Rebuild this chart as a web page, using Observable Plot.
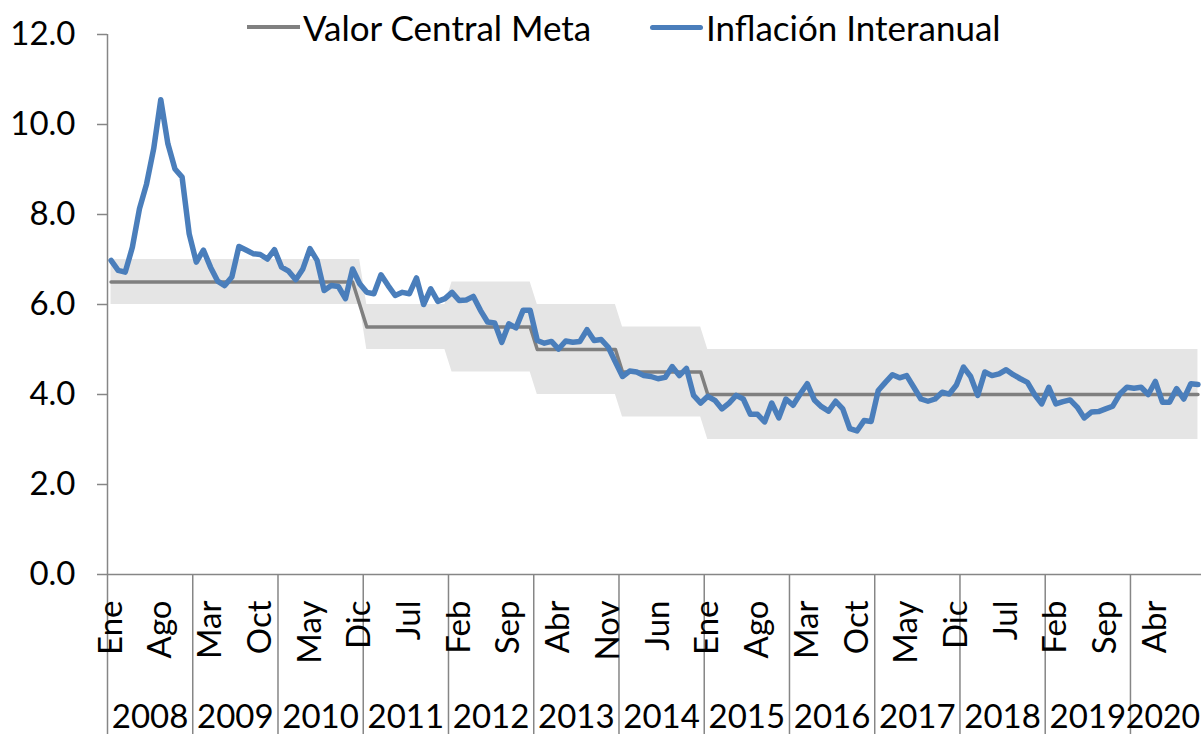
<!DOCTYPE html>
<html><head><meta charset="utf-8">
<script src="https://cdn.jsdelivr.net/npm/d3@7"></script>
<script src="https://cdn.jsdelivr.net/npm/@observablehq/plot@0.6"></script>
<style>
body{margin:0;background:#fff;font-family:Lato,"Liberation Sans",sans-serif;}
#wrap{position:relative;width:1201px;height:734px;overflow:hidden;}
.item{position:absolute;top:4px;height:46px;display:flex;align-items:center;font-size:35px;color:#000;white-space:nowrap;}
.sw{display:inline-block;width:53px;margin-right:3px;}
</style></head><body>
<div id="wrap"><div id="chart"></div>
<div class="item" style="left:247px"><span class="sw" style="height:4px;background:#808080"></span><span>Valor Central Meta</span></div>
<div class="item" style="left:650px"><span class="sw" style="height:5px;border-radius:3px;background:#4a7ebb"></span><span>Inflación Interanual</span></div>
</div>
<script>
const monthNames = ["Ene","Feb","Mar","Abr","May","Jun","Jul","Ago","Sep","Oct","Nov","Dic"];
const years = [2008,2009,2010,2011,2012,2013,2014,2015,2016,2017,2018,2019,2020];
// Inflación interanual mensual, Ene 2008 - Oct 2020
const inflation = [
 6.98,6.76,6.72,7.27,8.13,8.68,9.46,10.55,9.57,9.01,8.83,7.57,
 6.94,7.21,6.83,6.52,6.42,6.61,7.29,7.21,7.13,7.11,7.01,7.22,
 6.83,6.74,6.55,6.79,7.24,6.98,6.31,6.42,6.40,6.13,6.79,6.46,
 6.27,6.24,6.66,6.42,6.20,6.27,6.24,6.59,6.00,6.35,6.07,6.13,
 6.27,6.09,6.10,6.18,5.87,5.61,5.59,5.16,5.57,5.48,5.87,5.87,
 5.20,5.14,5.18,5.01,5.19,5.16,5.18,5.44,5.20,5.22,5.05,4.72,
 4.40,4.52,4.50,4.42,4.40,4.35,4.38,4.62,4.42,4.58,3.98,3.81,
 3.96,3.87,3.68,3.81,3.98,3.90,3.56,3.56,3.39,3.81,3.48,3.90,
 3.76,4.01,4.24,3.88,3.73,3.63,3.85,3.68,3.24,3.19,3.42,3.40,
 4.09,4.27,4.44,4.37,4.42,4.16,3.90,3.85,3.90,4.05,4.01,4.21,
 4.61,4.40,3.98,4.50,4.42,4.46,4.55,4.44,4.35,4.27,4.00,3.79,
 4.16,3.79,3.84,3.88,3.72,3.48,3.61,3.62,3.68,3.74,4.01,4.16,
 4.14,4.16,4.00,4.29,3.83,3.83,4.13,3.90,4.24,4.22
];
// Meta por año (valor central) y amplitud del rango de tolerancia
const metaCentral = [6.5,6.5,6.5,5.5,5.5,5.0,4.5,4.0,4.0,4.0,4.0,4.0,4.0];
const metaTolerance = [0.5,0.5,0.5,0.5,1.0,1.0,1.0,1.0,1.0,1.0,1.0,1.0,1.0];
// Valor central tal como aparece en Dic 2010 (transición)
const metaOverrides = [{year: 2010, month: 11, value: 6.0}];
const yTicks = [0,2,4,6,8,10,12];
const labelEvery = 7;

const data = inflation.map((v, i) => {
  const k = Math.floor(i / 12), m = i % 12;
  const ov = metaOverrides.find(o => o.year === years[k] && o.month === m);
  const c = metaCentral[k];
  return {i, value: v, meta: ov ? ov.value : c, lo: c - metaTolerance[k], hi: c + metaTolerance[k], label: monthNames[m]};
});
const monthTicks = data.filter(d => d.i % labelEvery === 0);
const yearLabels = years.map((y, k) => {
  const first = k * 12, last = Math.min(k * 12 + 11, inflation.length - 1);
  return {year: String(y), mid: (first + last) / 2, start: first - 0.5};
});
const fullYears = yearLabels.slice(0, -1);
const lastYear = yearLabels.slice(-1);

const axisColor = "#868686";
const fs = 33;
const chart = Plot.plot({
  width: 1201, height: 734,
  marginLeft: 107, marginRight: 0, marginTop: 34, marginBottom: 160,
  x: {domain: [-0.5, inflation.length - 0.5], axis: null},
  y: {domain: [0, 12], axis: null},
  style: {fontFamily: 'Lato, "Liberation Sans", sans-serif', fontSize: fs + "px", color: "#000", background: "#fff"},
  marks: [
    Plot.areaY(data, {x: "i", y1: "lo", y2: "hi", fill: "#e5e5e5"}),
    Plot.lineY(data, {x: "i", y: "meta", stroke: "#7f7f7f", strokeWidth: 3.5}),
    Plot.lineY(data, {x: "i", y: "value", stroke: "#4a7ebb", strokeWidth: 5.5, strokeLinejoin: "round", strokeLinecap: "round"}),
    Plot.ruleY([0], {stroke: axisColor, strokeWidth: 1.5}),
    Plot.ruleX([-0.5], {y1: 12, y2: 0, insetBottom: -160, stroke: axisColor, strokeWidth: 1.5}),
    Plot.ruleX(yearLabels.slice(1), {x: "start", y1: 0, y2: 0, insetBottom: -160, stroke: axisColor, strokeWidth: 1.5}),
    Plot.axisY({ticks: yTicks, tickFormat: d => d.toFixed(1), tickSize: 10, tickPadding: 22, stroke: axisColor, strokeWidth: 1.5, fill: "#000", fontSize: fs, label: null}),
    Plot.text(monthTicks, {x: "i", y: 0, text: "label", rotate: -90, textAnchor: "end", lineAnchor: "middle", dy: 26, fontSize: fs, fill: "#000"}),
    Plot.text(fullYears, {x: "mid", y: 0, text: "year", dy: 143, fontSize: fs, fill: "#000"}),
    Plot.text(lastYear, {x: "mid", y: 0, text: "year", dy: 143, dx: -3, fontSize: 32, fill: "#000"})
  ]
});
document.getElementById("chart").appendChild(chart);
</script>
</body></html>
